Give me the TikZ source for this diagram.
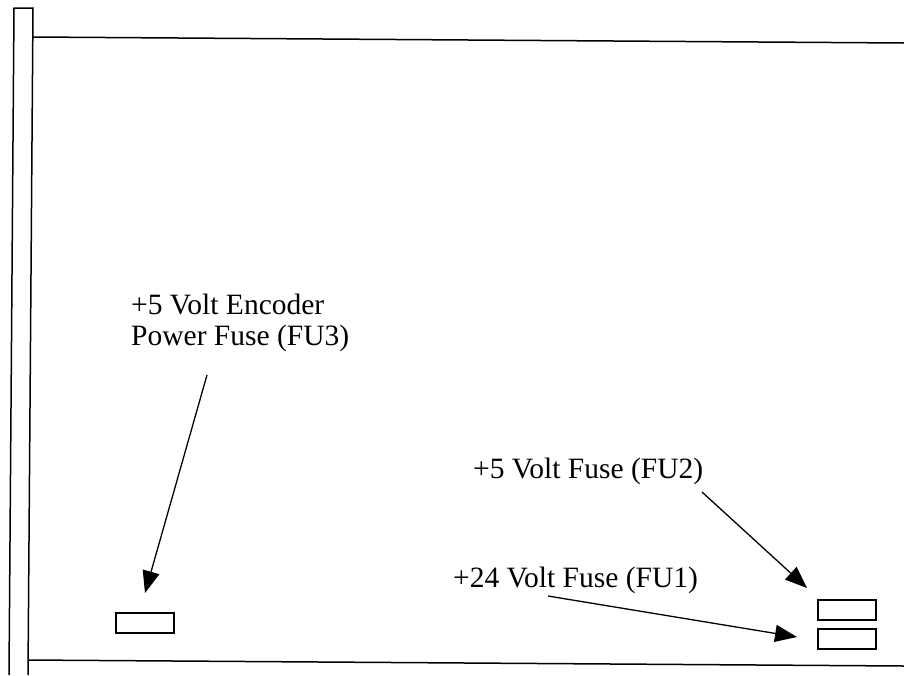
\documentclass[tikz,border=0pt]{standalone}
\usepackage{fontspec}
\setmainfont{Liberation Serif}
\usetikzlibrary{arrows.meta}
\begin{document}
\begin{tikzpicture}[x=1pt,y=-1pt,
  edge/.style={line width=1.5pt},
  fuse/.style={draw,line width=1.5pt,minimum width=58pt,minimum height=20pt,inner sep=0pt,anchor=north west},
  lbl/.style={inner sep=0pt,font=\fontsize{29.5}{30.5}\selectfont,align=left},
  pointer/.style={line width=1.3pt,-{Triangle[length=22pt,width=17pt]}}]
\useasboundingbox (0,0) rectangle (904,675);
% panel outline
\draw[edge] (9,675) -- (14,8) -- (33,8) -- (28,675);
\coordinate (tl) at (33,37);
\coordinate (tr) at (904,43);
\coordinate (bl) at (28,660);
\coordinate (br) at (904,666);
\draw[edge] (tl) -- (tr);
\draw[edge] (bl) -- (br);
% fuses
\node[fuse] (fu3) at (115,612) {};
\node[fuse] (fu2) at (817,599) {};
\node[fuse] (fu1) at (817,628) {};
% labels
\node[lbl,anchor=base west] (l3) at (131,345) {+5 Volt Encoder\\Power Fuse (FU3)};
\node[lbl,anchor=base west] (l2) at (473,478) {+5 Volt Fuse (FU2)};
\node[lbl,anchor=base west] (l1) at (453,587) {+24 Volt Fuse (FU1)};
% arrows
\coordinate (s3) at (207,375);
\coordinate (t3) at (145,593);
\coordinate (s2) at (702,492);
\coordinate (t2) at (807,588);
\coordinate (s1) at (548,596);
\coordinate (t1) at (797,637);
\draw[pointer] (s3) -- (t3);
\draw[pointer] (s2) -- (t2);
\draw[pointer] (s1) -- (t1);
\end{tikzpicture}
\end{document}
